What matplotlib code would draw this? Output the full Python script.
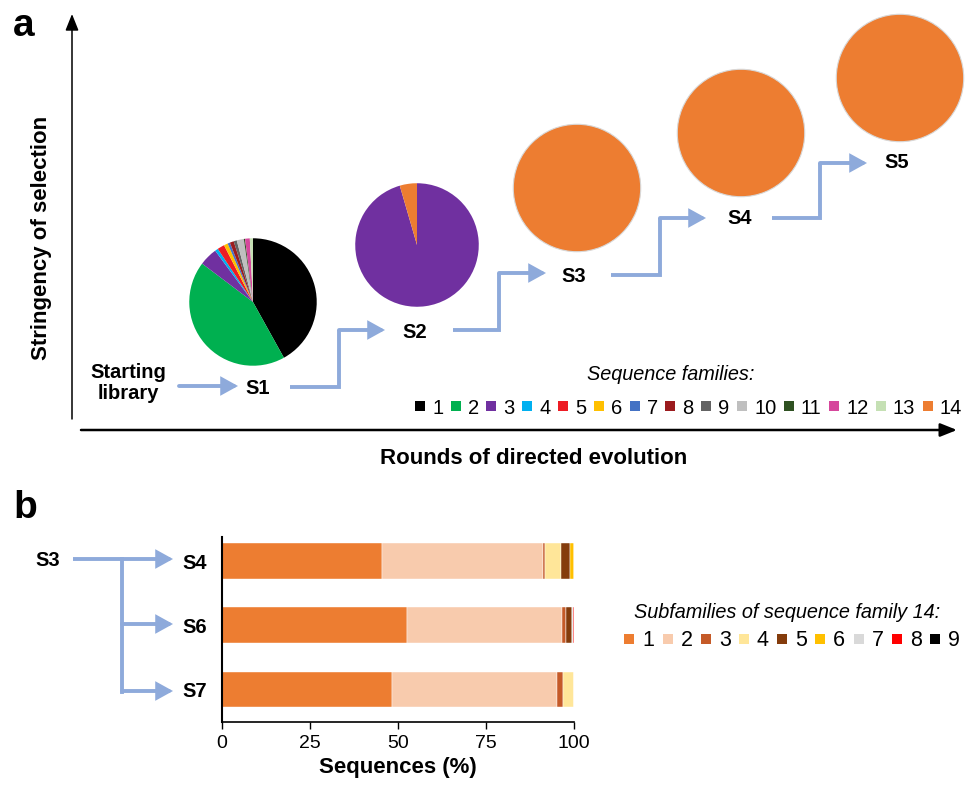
import numpy as np
import matplotlib
matplotlib.use('Agg')
import matplotlib.pyplot as plt
from matplotlib.lines import Line2D

plt.rcParams['font.family'] = ['Liberation Sans', 'DejaVu Sans']

# ---- data ----
family_labels = ['1', '2', '3', '4', '5', '6', '7', '8', '9', '10', '11', '12', '13', '14']
family_colors = ['#000000', '#00b050', '#7030a0', '#00b0f0', '#ed1c24', '#ffc000', '#4472c4',
                 '#9b1b1e', '#636363', '#bfbfbf', '#2f5121', '#d6479c', '#c5e0b4', '#ed7d31']

# share of each sequence family (%) per round, families 1..14
s1_share = [41.9, 43.3, 4.6, 0.8, 1.8, 1.0, 0.6, 1.0, 0.8, 1.8, 0.3, 1.2, 0.8, 0.0]
s2_share = [0, 0, 95.5, 0, 0, 0, 0, 0, 0, 0, 0, 0, 0, 4.5]
s3_share = [0] * 13 + [100.0]
s4_share = [0] * 13 + [100.0]
s5_share = [0] * 13 + [100.0]
rounds = ['S1', 'S2', 'S3', 'S4', 'S5']

sub_labels = ['1', '2', '3', '4', '5', '6', '7', '8', '9']
sub_colors = ['#ed7d31', '#f8cbad', '#c55a28', '#ffe699', '#843c0c', '#ffc000', '#d9d9d9',
              '#ff0000', '#000000']
bar_rounds = ['S4', 'S6', 'S7']
sub_S4 = [45.5, 45.6, 0.7, 4.5, 2.5, 1.2, 0, 0, 0]
sub_S6 = [52.6, 44.0, 1.0, 0, 1.8, 0, 0.2, 0.4, 0]
sub_S7 = [48.3, 47.0, 1.7, 3.0, 0, 0, 0, 0, 0]

W, H = 966, 786
blue = '#8eaadb'

fig = plt.figure(figsize=(W / 100, H / 100), dpi=100)


def px_axes(x0, y0, x1, y1):
    return fig.add_axes([x0 / W, 1 - y1 / H, (x1 - x0) / W, (y1 - y0) / H])


# overlay in pixel coords for the diagram parts
ov = fig.add_axes([0, 0, 1, 1])
ov.set_xlim(0, W)
ov.set_ylim(H, 0)
ov.axis('off')


def step_arrow(pts, lw=2.8, color=blue):
    xs = [p[0] for p in pts[:-1]]
    ys = [p[1] for p in pts[:-1]]
    if len(pts) > 2:
        ov.plot(xs, ys, color=color, lw=lw, solid_joinstyle='miter', solid_capstyle='butt')
    ov.annotate('', xy=pts[-1], xytext=pts[-2],
                arrowprops=dict(arrowstyle='-|>,head_length=0.85,head_width=0.47',
                                color=color, lw=lw, shrinkA=0, shrinkB=0,
                                mutation_scale=10, joinstyle='miter'))


# ---- panel a ----
ov.text(24, 26, 'a', fontsize=28, fontweight='bold', ha='center', va='center')
ov.annotate('', xy=(72, 14), xytext=(72, 419),
            arrowprops=dict(arrowstyle='-|>,head_length=1.0,head_width=0.4', color='black',
                            lw=1.1, shrinkA=0, shrinkB=0, mutation_scale=10))
ov.annotate('', xy=(957, 430), xytext=(81, 430),
            arrowprops=dict(arrowstyle='-|>,head_length=1.0,head_width=0.4', color='black',
                            lw=1.8, shrinkA=0, shrinkB=0, mutation_scale=10))
ov.text(42, 238, 'Stringency of selection', fontsize=16, fontweight='bold', rotation=90,
        ha='center', va='center')
ov.text(534, 458, 'Rounds of directed evolution', fontsize=16, fontweight='bold',
        ha='center', va='center')

pie_centers = [(253, 302), (417, 245), (577, 188), (741, 133), (900, 78)]
pie_r = [65, 63, 65, 65, 65]
shares = [s1_share, s2_share, s3_share, s4_share, s5_share]
for k, (c, r, sh) in enumerate(zip(pie_centers, pie_r, shares)):
    pax = px_axes(c[0] - r, c[1] - r, c[0] + r, c[1] + r)
    vals = [v for v in sh if v > 0]
    cols = [family_colors[i] for i, v in enumerate(sh) if v > 0]
    if len(vals) == 1:
        wp = dict(edgecolor='#d8d8d8', linewidth=0.8)
    else:
        wp = dict(edgecolor='none', linewidth=0)
    pax.pie(vals, colors=cols, startangle=90, counterclock=False, radius=1, wedgeprops=wp)
    pax.set_xlim(-1.02, 1.02)
    pax.set_ylim(-1.02, 1.02)
    pax.set_aspect('equal')
    pax.axis('off')

label_pos = [(258, 388), (415, 332), (574, 276), (740, 219), (897, 163)]
for name, (x, y) in zip(rounds, label_pos):
    ov.text(x, y, name, fontsize=14.5, fontweight='bold', ha='center', va='center')
ov.text(128, 383, 'Starting\nlibrary', fontsize=14.5, fontweight='bold', ha='center',
        va='center', linespacing=1.15)

step_arrow([(179, 386), (238, 386)])
step_arrow([(290, 387), (339, 387), (339, 330), (385, 330)])
step_arrow([(453, 330), (499, 330), (499, 273), (546, 273)])
step_arrow([(611, 275), (660, 275), (660, 218), (706, 218)])
step_arrow([(772, 218), (820, 218), (820, 163), (867, 163)])

ov.text(671, 375, 'Sequence families:', fontsize=14.3, style='italic', ha='center', va='center')
handles_a = [Line2D([], [], marker='s', linestyle='none', markersize=6.5,
                    markerfacecolor=c, markeredgewidth=0) for c in family_colors]
fig.legend(handles_a, family_labels, loc='center left', bbox_to_anchor=(414 / W, 1 - 408 / H),
           ncol=14, frameon=False, fontsize=14.5, handlelength=0.6, handletextpad=0.3,
           columnspacing=0.32, borderpad=0, borderaxespad=0)

# ---- panel b ----
ov.text(25, 508, 'b', fontsize=28, fontweight='bold', ha='center', va='center')
ov.text(48, 560, 'S3', fontsize=14.5, fontweight='bold', ha='center', va='center')
ov.plot([73, 122], [559, 559], color=blue, lw=2.8, solid_capstyle='butt')
ov.plot([122, 122], [559, 692], color=blue, lw=2.8, solid_capstyle='projecting')
step_arrow([(122, 559), (173, 559)])
step_arrow([(122, 624), (173, 624)])
step_arrow([(122, 691), (173, 691)])

bax = px_axes(222, 537, 574, 722)
data_b = np.array([sub_S4, sub_S6, sub_S7])
ypos = np.arange(len(bar_rounds))
left = np.zeros(len(bar_rounds))
for j in range(len(sub_labels)):
    bax.barh(ypos, data_b[:, j], left=left, height=0.56, color=sub_colors[j],
             edgecolor='white', linewidth=0.3)
    left += data_b[:, j]
bax.set_xlim(0, 100)
bax.set_ylim(2.506, -0.374)
bax.set_xticks([0, 25, 50, 75, 100])
bax.set_yticks(ypos)
bax.set_yticklabels(bar_rounds, fontsize=14.5, fontweight='bold')
bax.tick_params(axis='y', length=0, pad=11)
bax.tick_params(axis='x', length=5, width=1, labelsize=14, pad=4)
for s in ['top', 'right']:
    bax.spines[s].set_visible(False)
bax.spines['left'].set_linewidth(1.5)
bax.spines['bottom'].set_linewidth(1.2)
bax.set_xlabel('Sequences (%)', fontsize=16, fontweight='bold', labelpad=4)

ov.text(787, 612, 'Subfamilies of sequence family 14:', fontsize=14.3, style='italic',
        ha='center', va='center')
handles_b = [Line2D([], [], marker='s', linestyle='none', markersize=7,
                    markerfacecolor=c, markeredgewidth=0) for c in sub_colors]
fig.legend(handles_b, sub_labels, loc='center left', bbox_to_anchor=(623 / W, 1 - 641 / H),
           ncol=9, frameon=False, fontsize=15.5, handlelength=0.6, handletextpad=0.3,
           columnspacing=0.32, borderpad=0, borderaxespad=0)

fig.savefig('out.png', dpi=100)
